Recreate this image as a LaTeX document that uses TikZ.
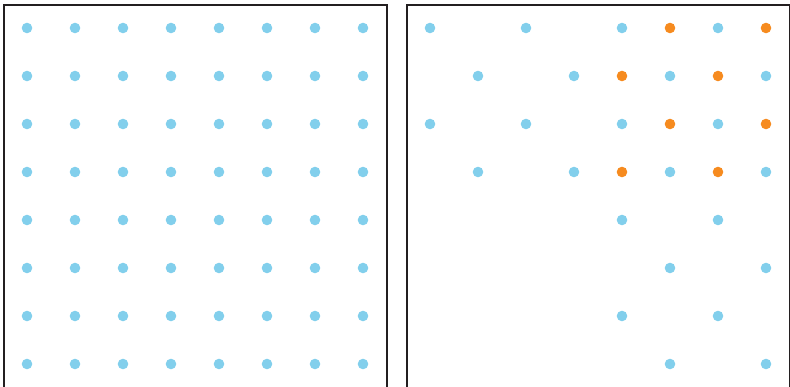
\documentclass[tikz,border=0pt]{standalone}
\definecolor{dotblue}{HTML}{82CFEC}
\definecolor{dotorange}{HTML}{F68B1F}
\definecolor{frame}{HTML}{231F20}
\tikzset{
  panel/.style={draw=frame, line width=2pt},
  bdot/.style={fill=dotblue},
  odot/.style={fill=dotorange}
}
\begin{document}
\begin{tikzpicture}[x=1pt,y=-1pt]
\useasboundingbox (0,0) rectangle (790,387);
\begin{scope}
\clip (0,0) rectangle (790,387);
\draw[panel] (4,5) rectangle (387,420);
\draw[panel] (407,5) rectangle (790,420);
\end{scope}
% left full grid
\foreach \i in {0,...,7}{
  \foreach \j in {0,...,7}{
    \fill[bdot] (27+48*\i,28+48*\j) circle (5.3);
  }
}
% right panel: rows 0-3, checker in columns 0-3
\foreach \j in {0,2}{
  \foreach \i in {0,2}{
    \fill[bdot] (430+48*\i,28+48*\j) circle (5.3);
    \fill[bdot] (478+48*\i,76+48*\j) circle (5.3);
  }
}
% right panel: rows 0-3, columns 4-7
\foreach \j in {0,2}{
  \fill[bdot] (622,28+48*\j) circle (5.3);
  \fill[odot] (670,28+48*\j) circle (5.3);
  \fill[bdot] (718,28+48*\j) circle (5.3);
  \fill[odot] (766,28+48*\j) circle (5.3);
  \fill[odot] (622,76+48*\j) circle (5.3);
  \fill[bdot] (670,76+48*\j) circle (5.3);
  \fill[odot] (718,76+48*\j) circle (5.3);
  \fill[bdot] (766,76+48*\j) circle (5.3);
}
% right panel: rows 4-7
\foreach \j in {0,2}{
  \fill[bdot] (622,220+48*\j) circle (5.3);
  \fill[bdot] (718,220+48*\j) circle (5.3);
  \fill[bdot] (670,268+48*\j) circle (5.3);
  \fill[bdot] (766,268+48*\j) circle (5.3);
}
\end{tikzpicture}
\end{document}
